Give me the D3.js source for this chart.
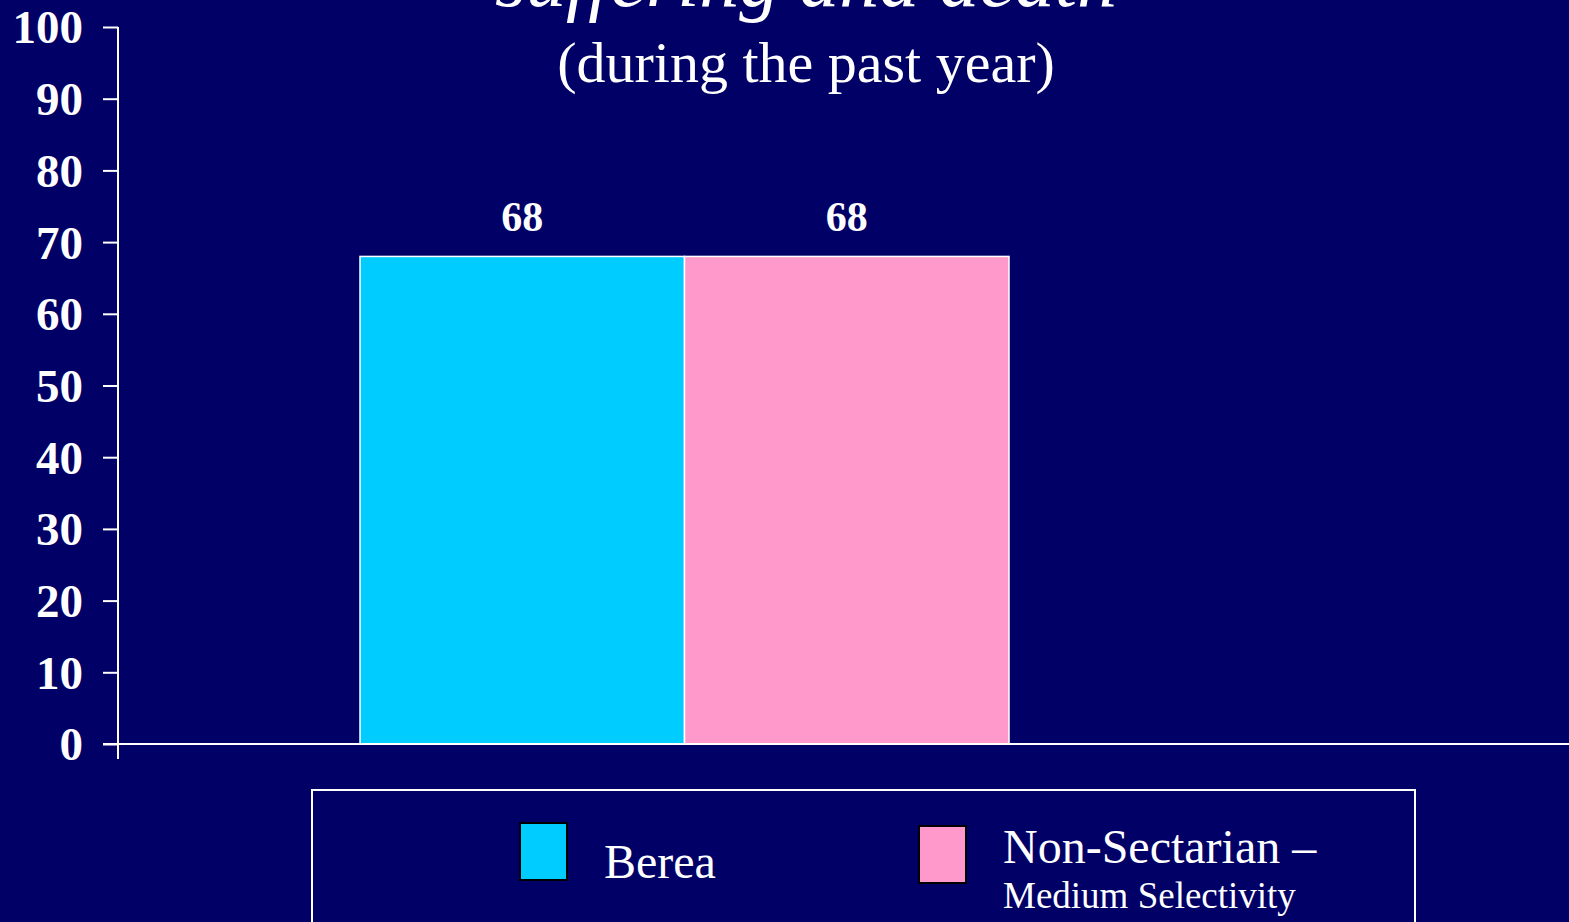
<!DOCTYPE html>
<html><head><meta charset="utf-8">
<script src="https://cdn.jsdelivr.net/npm/d3@7"></script>
<style>
html,body{margin:0;padding:0;background:#000066;overflow:hidden;}
svg{display:block;}
text{font-family:"Liberation Serif","Times New Roman",serif;fill:#fff;}
</style></head>
<body>
<script>
const titleLine1 = "suffering and death";
const titleLine2 = "(during the past year)";
const seriesNames = ["Berea", "Non-Sectarian \u2013"];
const seriesSub = ["", "Medium Selectivity"];
const values = [68, 68];
const colors = ["#00CCFF", "#FF99CC"];
const yTicks = [0,10,20,30,40,50,60,70,80,90,100];

const W = 1569, H = 922;
const svg = d3.select("body").append("svg").attr("width", W).attr("height", H);
svg.append("rect").attr("width", W).attr("height", H).attr("fill", "#000066");

const y = d3.scaleLinear().domain([0,100]).range([744, 27]);
const x = d3.scaleBand().domain(seriesNames).range([360, 1009]).padding(0);

// title
svg.append("text").attr("x", 806).attr("y", 6).attr("text-anchor","middle")
  .style("font-style","italic").style("font-size","80px").text(titleLine1);
svg.append("text").attr("x", 806).attr("y", 82).attr("text-anchor","middle")
  .style("font-size","58px").text(titleLine2);

// bars
svg.selectAll("rect.bar").data(values).enter().append("rect")
  .attr("class","bar")
  .attr("x",(d,i)=>x(seriesNames[i]))
  .attr("y",d=>y(d))
  .attr("width",x.bandwidth())
  .attr("height",d=>y(0)-y(d))
  .attr("fill",(d,i)=>colors[i])
  .attr("stroke","#fff").attr("stroke-width",1.5);

svg.selectAll("text.val").data(values).enter().append("text")
  .attr("class","val")
  .attr("x",(d,i)=>x(seriesNames[i])+x.bandwidth()/2)
  .attr("y",d=>y(d)-25)
  .attr("text-anchor","middle")
  .style("font-weight","bold").style("font-size","42px")
  .text(d=>d);

// y axis
const yAxis = d3.axisLeft(y).tickValues(yTicks).tickSize(15).tickPadding(20);
const gy = svg.append("g").attr("transform","translate(118,0)").call(yAxis);
gy.select(".domain").remove();
gy.selectAll(".tick line").attr("stroke","#fff").attr("stroke-width",2);
gy.selectAll(".tick text").attr("fill","#fff")
  .style("font-family","'Liberation Serif','Times New Roman',serif")
  .style("font-weight","bold").style("font-size","47px").attr("dy","0.34em");
svg.append("line").attr("x1",118).attr("x2",118).attr("y1",y(100)).attr("y2",759)
  .attr("stroke","#fff").attr("stroke-width",2);
// x axis
svg.append("line").attr("x1",103).attr("x2",W).attr("y1",y(0)).attr("y2",y(0))
  .attr("stroke","#fff").attr("stroke-width",2);

// legend
svg.append("rect").attr("x",312).attr("y",790).attr("width",1103).attr("height",160)
  .attr("fill","none").attr("stroke","#fff").attr("stroke-width",2);
const sw = [{x:520,y:823},{x:919,y:826}];
svg.selectAll("rect.sw").data(seriesNames).enter().append("rect")
  .attr("class","sw")
  .attr("x",(d,i)=>sw[i].x).attr("y",(d,i)=>sw[i].y)
  .attr("width",47).attr("height",57)
  .attr("fill",(d,i)=>colors[i]).attr("stroke","#000").attr("stroke-width",2);
svg.append("text").attr("x",604).attr("y",878).style("font-size","48px").text(seriesNames[0]);
svg.append("text").attr("x",1003).attr("y",863).style("font-size","48px").text(seriesNames[1]);
svg.append("text").attr("x",1003).attr("y",908).style("font-size","37px").text(seriesSub[1]);
</script>
</body></html>
